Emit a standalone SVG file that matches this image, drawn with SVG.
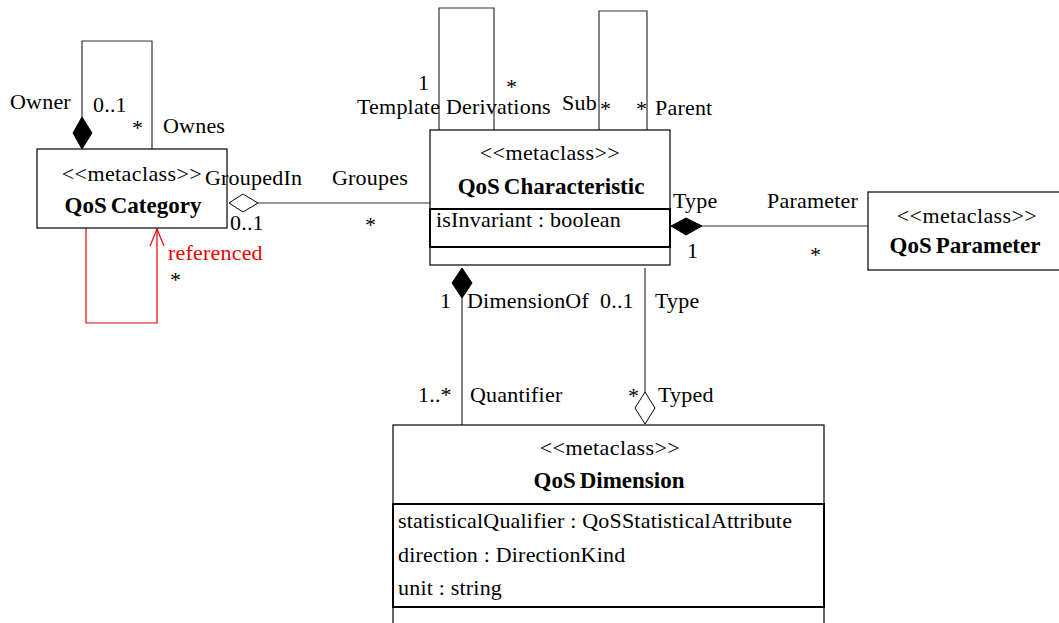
<svg xmlns="http://www.w3.org/2000/svg" width="1059" height="623" viewBox="0 0 1059 623" font-family="'Liberation Serif', 'Times New Roman', 'DejaVu Serif', serif">
<style>
text{font-family:'Liberation Serif','Times New Roman','DejaVu Serif',serif;font-size:22px;letter-spacing:0.2px;fill:#000}
.t{font-weight:bold;font-size:23px;letter-spacing:0;text-anchor:middle}
.s{text-anchor:middle;letter-spacing:0.4px}
.box{fill:#fff;stroke:#000;stroke-width:1.2}
.cmp{fill:none;stroke:#000;stroke-width:2}
.ln{fill:none;stroke:#333;stroke-width:1.2}
.fd{fill:#000;stroke:#000;stroke-width:1}
.hd{fill:#fff;stroke:#000;stroke-width:1}
.red{fill:none;stroke:#e00;stroke-width:1.2}
.rt{fill:#e00}
</style>
<rect width="1059" height="623" fill="#fff"/>
<g id="connectors">
  <path class="ln" d="M82,117 V41 H152 V149"/>
  <polygon class="fd" points="82,117 92,133 82,149 73,133"/>
  <path class="red" d="M86,228 V323 H157 V229"/>
  <path class="red" d="M150,246 L157,229 L164,246"/>
  <path class="ln" d="M258,203 H430"/>
  <polygon class="hd" points="229,203 243,194 258,203 243,212"/>
  <path class="ln" d="M439,130 V8 H494 V130"/>
  <path class="ln" d="M599,130 V11 H647 V130"/>
  <path class="ln" d="M702,226 H868"/>
  <polygon class="fd" points="671,226 686,218 702,226 686,235"/>
  <path class="ln" d="M462,298 V425"/>
  <polygon class="fd" points="462,268 472,283 462,298 452,283"/>
  <path class="ln" d="M645,268 V392"/>
  <polygon class="hd" points="645,392 655,408 645,424 635,408"/>
</g>
<g id="QoSCategory">
  <rect class="box" x="37" y="149" width="190" height="79"/>
  <text class="s" x="132" y="181">&lt;&lt;metaclass&gt;&gt;</text>
  <text class="t" x="133" y="213">QoS<tspan dx="4">Category</tspan></text>
</g>
<g id="QoSCharacteristic">
  <rect class="box" x="430" y="130" width="240" height="135"/>
  <rect class="cmp" x="430" y="209" width="240" height="38"/>
  <text class="s" x="550" y="160">&lt;&lt;metaclass&gt;&gt;</text>
  <text class="t" x="551" y="194">QoS<tspan dx="4">Characteristic</tspan></text>
  <text x="436" y="227">isInvariant : boolean</text>
</g>
<g id="QoSParameter">
  <rect class="box" x="868" y="192" width="200" height="78"/>
  <text class="s" x="967" y="223">&lt;&lt;metaclass&gt;&gt;</text>
  <text class="t" x="965" y="253">QoS<tspan dx="4">Parameter</tspan></text>
</g>
<g id="QoSDimension">
  <rect class="box" x="393" y="425" width="431" height="210"/>
  <rect class="cmp" x="393" y="504" width="431" height="103"/>
  <text class="s" x="610" y="455">&lt;&lt;metaclass&gt;&gt;</text>
  <text class="t" x="609" y="488">QoS<tspan dx="4">Dimension</tspan></text>
  <text x="398" y="528">statisticalQualifier : QoSStatisticalAttribute</text>
  <text x="398" y="562">direction : DirectionKind</text>
  <text x="398" y="595">unit : string</text>
</g>
<g id="labels">
  <text x="10" y="109">Owner</text>
  <text x="93" y="112">0..1</text>
  <text x="132" y="135">*</text>
  <text x="163" y="133">Ownes</text>
  <text x="168" y="260" class="rt">referenced</text>
  <text x="170" y="287">*</text>
  <text x="205" y="185">GroupedIn</text>
  <text x="332" y="185">Groupes</text>
  <text x="230" y="230">0..1</text>
  <text x="365" y="232">*</text>
  <text x="418" y="90">1</text>
  <text x="506" y="94">*</text>
  <text x="357" y="114">Template</text>
  <text x="446" y="114">Derivations</text>
  <text x="562" y="110">Sub</text>
  <text x="600" y="116">*</text>
  <text x="636" y="116">*</text>
  <text x="655" y="115">Parent</text>
  <text x="673" y="208">Type</text>
  <text x="767" y="208">Parameter</text>
  <text x="687" y="258">1</text>
  <text x="810" y="262">*</text>
  <text x="440" y="308">1</text>
  <text x="467" y="308">DimensionOf</text>
  <text x="600" y="308">0..1</text>
  <text x="655" y="308">Type</text>
  <text x="418" y="402">1..*</text>
  <text x="470" y="402">Quantifier</text>
  <text x="628" y="403">*</text>
  <text x="658" y="402">Typed</text>
</g>
</svg>
